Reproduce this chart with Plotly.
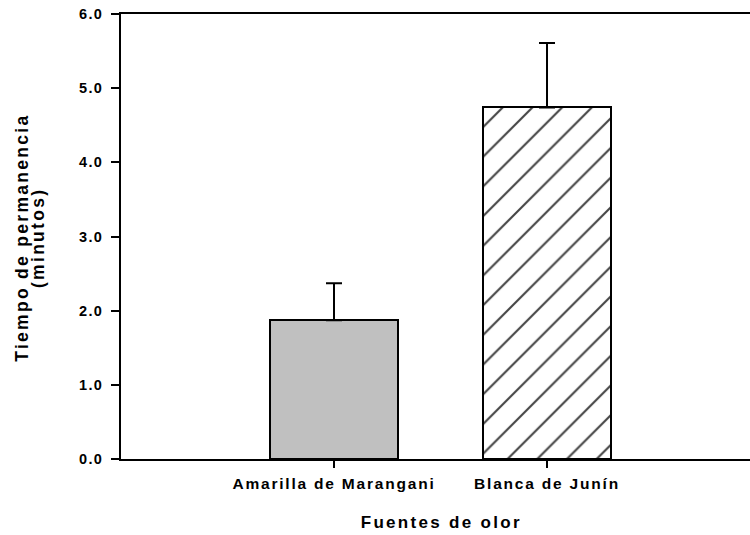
import plotly.graph_objects as go

categorias = ["Amarilla de Marangani", "Blanca de Junín"]
medias = [1.87, 4.74]
errores = [0.50, 0.87]
sin_error = [0, 0]
y_ticks = [0, 1, 2, 3, 4, 5, 6]
y_tick_labels = ["0.0", "1.0", "2.0", "3.0", "4.0", "5.0", "6.0"]

FONT = "Liberation Sans, Arial, sans-serif"

fig = go.Figure()

fig.add_trace(go.Bar(
    x=[0, 1],
    y=medias,
    width=0.6,
    marker=dict(
        color=["#c0c0c0", "white"],
        line=dict(color="black", width=2),
        pattern=dict(
            shape=["", "/"],
            fgcolor="black",
            fgopacity=1,
            bgcolor=["#c0c0c0", "white"],
            size=21,
            solidity=0.1,
        ),
    ),
    error_y=dict(
        type="data",
        symmetric=False,
        array=errores,
        arrayminus=sin_error,
        color="black",
        thickness=2,
        width=8,
    ),
    showlegend=False,
))

fig.update_layout(
    width=750,
    height=535,
    margin=dict(l=121, r=0, t=14, b=76),
    plot_bgcolor="white",
    paper_bgcolor="white",
    font=dict(family=FONT, color="black", size=13),
    bargap=0,
)

fig.update_xaxes(
    range=[-1, 1.953],
    tickvals=[0, 1],
    ticktext=categorias,
    ticks="outside",
    ticklen=7,
    tickwidth=2,
    tickcolor="black",
    showline=True,
    linecolor="black",
    linewidth=2,
    mirror=True,
    showgrid=False,
    zeroline=False,
    automargin=False,
    ticklabelstandoff=2,
    tickfont=dict(family=FONT, size=15.5, color="black", weight="bold"),
)

fig.update_yaxes(
    range=[0, 6],
    tickvals=y_ticks,
    ticktext=y_tick_labels,
    ticks="outside",
    ticklen=8,
    tickwidth=2,
    tickcolor="black",
    showline=True,
    linecolor="black",
    linewidth=2,
    showgrid=False,
    zeroline=False,
    automargin=False,
    ticklabelstandoff=5,
    tickfont=dict(family=FONT, size=14.5, color="black", weight="bold"),
)

# axis titles
fig.add_annotation(
    text="Fuentes de olor", xref="paper", yref="paper",
    x=0.510, y=-0.1416, xanchor="center", yanchor="middle", showarrow=False,
    font=dict(family=FONT, size=17, color="black", weight="bold"),
)
fig.add_annotation(
    text="Tiempo de permanencia", xref="paper", yref="paper",
    x=-0.157, y=0.498, xanchor="center", yanchor="middle", showarrow=False,
    textangle=-90,
    font=dict(family=FONT, size=17.5, color="black", weight="bold"),
)
fig.add_annotation(
    text="(minutos)", xref="paper", yref="paper",
    x=-0.1315, y=0.498, xanchor="center", yanchor="middle", showarrow=False,
    textangle=-90,
    font=dict(family=FONT, size=17.5, color="black", weight="bold"),
)

page = """
document.body.style.margin='0';
document.querySelectorAll('.xtick text').forEach(function(t){t.style.letterSpacing='1.8px';});
document.querySelectorAll('.ytick text').forEach(function(t){t.style.letterSpacing='1.3px';});
document.querySelectorAll('.annotation-text').forEach(function(t){t.style.letterSpacing='2.3px';});
"""

fig.write_html("out.html", post_script=page, config={"displayModeBar": False})
